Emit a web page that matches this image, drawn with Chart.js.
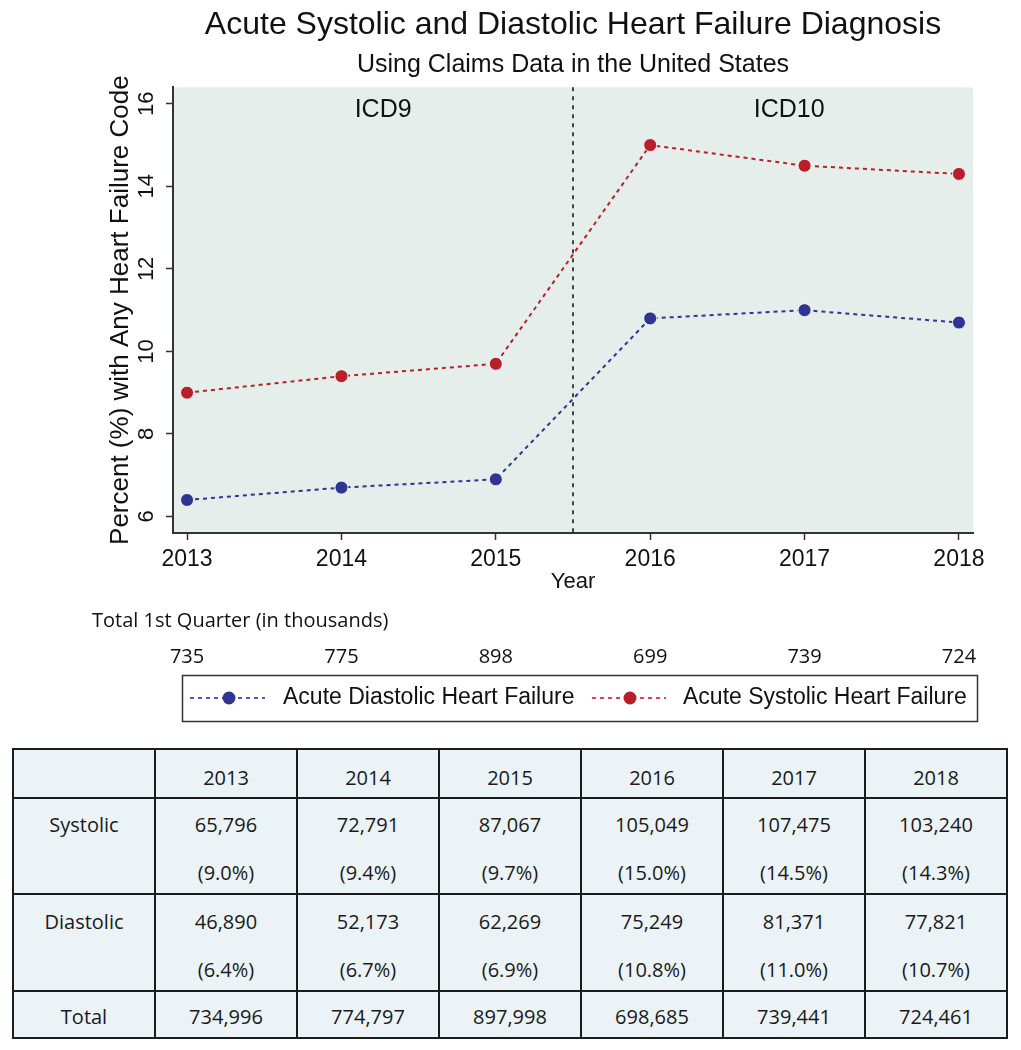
<!DOCTYPE html>
<html><head><meta charset="utf-8">
<script src="https://cdn.jsdelivr.net/npm/chart.js@4"></script>
<style>
html,body{margin:0;padding:0;background:#fff;}
body{width:1021px;height:1050px;overflow:hidden;position:relative;}
#wrap{position:absolute;left:0;top:0;width:1021px;height:740px;}
#tbl{position:absolute;left:12px;top:748px;width:996px;border-collapse:collapse;table-layout:fixed;background:#ebf3f7;font-family:"Open Sans",sans-serif;font-size:20px;color:#1a1a1a;}
#tbl td{border:2px solid #1c1c1c;padding:0;text-align:center;vertical-align:top;}
#tbl .cell{position:relative;width:100%;}
#tbl .ln{position:absolute;left:0;right:0;line-height:24px;height:24px;white-space:nowrap;}
</style></head>
<body>
<div id="wrap"><canvas id="c" width="1021" height="740"></canvas></div>
<table id="tbl"></table>
<script>
// ---- data ----
const years = [2013, 2014, 2015, 2016, 2017, 2018];
const diastolicPct = [6.4, 6.7, 6.9, 10.8, 11.0, 10.7];
const systolicPct = [9.0, 9.4, 9.7, 15.0, 14.5, 14.3];
const yTicks = [6, 8, 10, 12, 14, 16];
const totalsThousands = [735, 775, 898, 699, 739, 724];
const systolicN = [65796, 72791, 87067, 105049, 107475, 103240];
const diastolicN = [46890, 52173, 62269, 75249, 81371, 77821];
const totalN = [734996, 774797, 897998, 698685, 739441, 724461];
const periodLabels = ['ICD9', 'ICD10'];
const seriesLabels = ['Acute Diastolic Heart Failure', 'Acute Systolic Heart Failure'];
const rowLabels = ['Systolic', 'Diastolic', 'Total'];

// ---- styles ----
const BLUE = '#2e3592', RED = '#b81f2a', AX = '#333333', TXT = '#111111';
const FONT = '"Liberation Sans", Arial, Helvetica, sans-serif';
const OPEN = '"Open Sans", sans-serif';

function series(label, vals, color) {
  return {
    label: label,
    data: years.map((x, i) => ({x: x, y: vals[i]})),
    borderColor: color, backgroundColor: color,
    borderWidth: 2, borderDash: [4, 4], tension: 0,
    pointRadius: 6.5, pointBackgroundColor: color,
    pointBorderColor: 'rgba(255,255,255,0.85)', pointBorderWidth: 1
  };
}

const decor = {
  id: 'decor',
  beforeDraw(chart) {
    const {ctx, chartArea: a} = chart;
    ctx.save();
    ctx.fillStyle = '#e6eeec';
    ctx.fillRect(a.left, a.top, a.right - a.left, a.bottom - a.top);
    ctx.restore();
  },
  beforeDatasetsDraw(chart) {
    const {ctx, chartArea: a, scales: {x, y}} = chart;
    const px = x.getPixelForValue(2015.5);
    ctx.save();
    ctx.strokeStyle = AX; ctx.lineWidth = 1.8; ctx.setLineDash([4, 5]);
    ctx.beginPath(); ctx.moveTo(px, a.top); ctx.lineTo(px, a.bottom); ctx.stroke();
    ctx.setLineDash([]);
    ctx.fillStyle = TXT; ctx.font = '25px ' + FONT;
    ctx.textAlign = 'center'; ctx.textBaseline = 'middle';
    ctx.fillText(periodLabels[0], x.getPixelForValue(2014.27), y.getPixelForValue(15.85));
    ctx.fillText(periodLabels[1], x.getPixelForValue(2016.9), y.getPixelForValue(15.85));
    ctx.restore();
  },
  afterDraw(chart) {
    const {ctx, scales: {x}} = chart;
    ctx.save();
    // totals row
    ctx.fillStyle = TXT; ctx.font = '20px ' + OPEN;
    ctx.textBaseline = 'middle'; ctx.textAlign = 'left';
    ctx.fillText('Total 1st Quarter (in thousands)', 92, 621);
    ctx.textAlign = 'center';
    totalsThousands.forEach((v, i) => ctx.fillText(String(v), x.getPixelForValue(years[i]), 657));
    // legend
    ctx.strokeStyle = '#333'; ctx.lineWidth = 1.5;
    ctx.strokeRect(182.5, 675.5, 795, 46);
    const entries = [
      {l0: 190, l1: 265, dot: 229, tx: 283},
      {l0: 592, l1: 666, dot: 630, tx: 683}
    ];
    const ly = 698;
    chart.data.datasets.forEach((ds, i) => {
      const e = entries[i];
      ctx.strokeStyle = ds.borderColor; ctx.lineWidth = 1.6; ctx.setLineDash([4, 4]);
      ctx.beginPath(); ctx.moveTo(e.l0, ly); ctx.lineTo(e.l1, ly); ctx.stroke();
      ctx.setLineDash([]);
      ctx.fillStyle = ds.borderColor;
      ctx.beginPath(); ctx.arc(e.dot, ly, 6.5, 0, Math.PI * 2); ctx.fill();
      ctx.fillStyle = TXT; ctx.font = '23px ' + FONT; ctx.textAlign = 'left';
      ctx.fillText(ds.label, e.tx, ly);
    });
    ctx.restore();
  }
};

const gridOpts = {drawOnChartArea: false, drawTicks: true, tickLength: 7, tickColor: AX, tickWidth: 1.5};
const borderOpts = {display: true, color: AX, width: 2};

new Chart(document.getElementById('c'), {
  type: 'line',
  data: {datasets: [series(seriesLabels[0], diastolicPct, BLUE), series(seriesLabels[1], systolicPct, RED)]},
  options: {
    responsive: false, animation: false,
    layout: {padding: {left: 0, right: 48, top: 0, bottom: 137}},
    plugins: {
      legend: {display: false}, tooltip: {enabled: false},
      title: {display: true, fullSize: false, text: 'Acute Systolic and Diastolic Heart Failure Diagnosis', color: TXT,
        font: {family: FONT, size: 32, weight: 'normal', lineHeight: 1.2}, padding: {top: 6, bottom: 0}},
      subtitle: {display: true, fullSize: false, text: 'Using Claims Data in the United States', color: TXT,
        font: {family: FONT, size: 25, weight: 'normal', lineHeight: 1.2}, padding: {top: 5.6, bottom: 7.3}}
    },
    scales: {
      x: {
        type: 'linear', min: 2012.909, max: 2018.091,
        afterBuildTicks: s => { s.ticks = years.map(v => ({value: v})); },
        afterFit: s => { s.height = 70; },
        grid: gridOpts, border: borderOpts,
        ticks: {color: TXT, font: {family: FONT, size: 23}, padding: 6, maxRotation: 0, autoSkip: false,
          callback: v => String(v)},
        title: {display: true, text: 'Year', color: TXT, font: {family: FONT, size: 22}, padding: {top: 0, bottom: 8}}
      },
      y: {
        type: 'linear', min: 5.6, max: 16.4,
        afterBuildTicks: s => { s.ticks = yTicks.map(v => ({value: v})); },
        afterFit: s => { s.width = 173; },
        grid: gridOpts, border: borderOpts,
        ticks: {color: TXT, font: {family: FONT, size: 22}, padding: 7, minRotation: 90, maxRotation: 90,
          crossAlign: 'center', callback: v => String(v)},
        title: {display: true, text: 'Percent (%) with Any Heart Failure Code', color: TXT,
          font: {family: FONT, size: 26}, padding: {top: 105, bottom: 0}}
      }
    }
  },
  plugins: [decor]
});

// ---- table ----
const fmt = n => n.toLocaleString('en-US');
const pct = v => '(' + v.toFixed(1) + '%)';
const rows = [
  {h: 47, c: [29], cells: [''].concat(years.map(String)).map(t => [t])},
  {h: 94, c: [27, 75], cells: [[rowLabels[0]]].concat(years.map((_, i) => [fmt(systolicN[i]), pct(systolicPct[i])]))},
  {h: 95, c: [28, 76], cells: [[rowLabels[1]]].concat(years.map((_, i) => [fmt(diastolicN[i]), pct(diastolicPct[i])]))},
  {h: 45, c: [26], cells: [[rowLabels[2]]].concat(years.map((_, i) => [fmt(totalN[i])]))}
];
let html = '<colgroup>' + '<col style="width:14.2857%">'.repeat(7) + '</colgroup>';
rows.forEach(r => {
  html += '<tr>';
  r.cells.forEach(lines => {
    html += '<td><div class="cell" style="height:' + r.h + 'px">';
    lines.forEach((t, k) => { html += '<div class="ln" style="top:' + (r.c[k] - 13) + 'px">' + t + '</div>'; });
    html += '</div></td>';
  });
  html += '</tr>';
});
document.getElementById('tbl').innerHTML = html;
</script>
</body></html>
